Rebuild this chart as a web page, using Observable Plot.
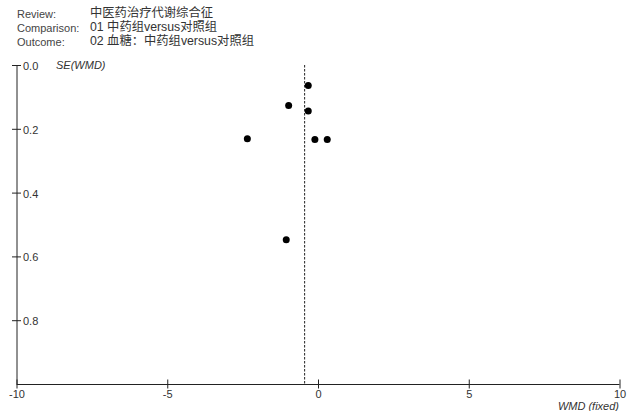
<!DOCTYPE html>
<html>
<head>
<meta charset="utf-8">
<script src="https://cdn.jsdelivr.net/npm/d3@7"></script>
<script src="https://cdn.jsdelivr.net/npm/@observablehq/plot@0.6"></script>
<style>
  html, body { margin: 0; padding: 0; background: #fff; }
  #wrap { position: relative; width: 627px; height: 411px; overflow: hidden; }
  .hl { position: absolute; font-family: "Liberation Sans", Arial, "Noto Sans CJK SC", sans-serif; font-size: 11px; color: #444; white-space: nowrap; line-height: 14px; }
  .hv { position: absolute; font-family: "Liberation Sans", Arial, "Noto Sans CJK SC", sans-serif; font-size: 12.3px; color: #333; white-space: nowrap; line-height: 14px; }
  #chart { position: absolute; left: 0; top: 0; }
</style>
</head>
<body>
<div id="wrap">
  <div id="chart"></div>
</div>
<script>
// Header text
const headerLabels = ["Review:", "Comparison:", "Outcome:"];
const headerValues = ["中医药治疗代谢综合征", "01 中药组versus对照组", "02 血糖：中药组versus对照组"];

// Study data: effect size (WMD) and its standard error
const wmd = [-0.34, -0.99, -0.34, -2.36, -0.12, 0.29, -1.07];
const se  = [0.063, 0.125, 0.143, 0.230, 0.232, 0.232, 0.546];

// Pooled fixed-effect estimate (dashed line)
const pooled = [-0.46];

// Ticks and axis titles
const xTicks = [-10, -5, 0, 5, 10];
const yTicks = [0, 0.2, 0.4, 0.6, 0.8];
const yTitle = ["SE(WMD)"];
const xTitle = ["WMD (fixed)"];

const wrap = document.getElementById("wrap");
headerLabels.forEach((t, i) => {
  const a = document.createElement("div");
  a.className = "hl"; a.textContent = t;
  a.style.left = "17px"; a.style.top = (7 + i * 14) + "px";
  wrap.appendChild(a);
  const b = document.createElement("div");
  b.className = "hv"; b.textContent = headerValues[i];
  b.style.left = "90px"; b.style.top = (6 + i * 14) + "px";
  wrap.appendChild(b);
});

const data = wmd.map((v, i) => ({wmd: v, se: se[i]}));
const ink = "#222";

const chart = Plot.plot({
  width: 627,
  height: 411,
  marginTop: 65,
  marginBottom: 27,
  marginLeft: 16.5,
  marginRight: 7.5,
  x: {domain: [-10, 10], label: null},
  y: {domain: [0, 1], reverse: true, label: null},
  style: {fontFamily: "'Liberation Sans', Arial, sans-serif", fontSize: "11px", color: "#333", background: "transparent"},
  marks: [
    Plot.ruleX([-10], {stroke: ink, strokeWidth: 1}),
    Plot.ruleY([1], {stroke: ink, strokeWidth: 1}),
    Plot.ruleX(pooled, {stroke: ink, strokeWidth: 1, strokeDasharray: "2.5,1.5"}),
    Plot.axisY({ticks: yTicks, tickSize: 9, dx: 4.5, tickFormat: () => "", stroke: ink, label: null}),
    Plot.text(yTicks, {x: () => -10, y: d => d, text: d => d.toFixed(1), textAnchor: "start", dx: 6, dy: 1, fill: "#333"}),
    Plot.axisX({ticks: xTicks, tickSize: 9, dy: -4.5, tickFormat: () => "", stroke: ink, label: null}),
    Plot.axisX({ticks: xTicks, tickSize: 0, tickPadding: 6, tickFormat: d => String(d), fill: "#333", label: null}),
    Plot.dot(data, {x: "wmd", y: "se", r: 3.5, fill: "#000", stroke: "none"}),
    Plot.text(yTitle, {frameAnchor: "top-left", dx: 39, dy: 0, lineAnchor: "middle", textAnchor: "start", fontStyle: "italic", fill: "#333"}),
    Plot.text(xTitle, {frameAnchor: "bottom-right", dx: -1, dy: 22, lineAnchor: "middle", textAnchor: "end", fontStyle: "italic", fill: "#333"})
  ]
});
document.getElementById("chart").appendChild(chart);
</script>
</body>
</html>
